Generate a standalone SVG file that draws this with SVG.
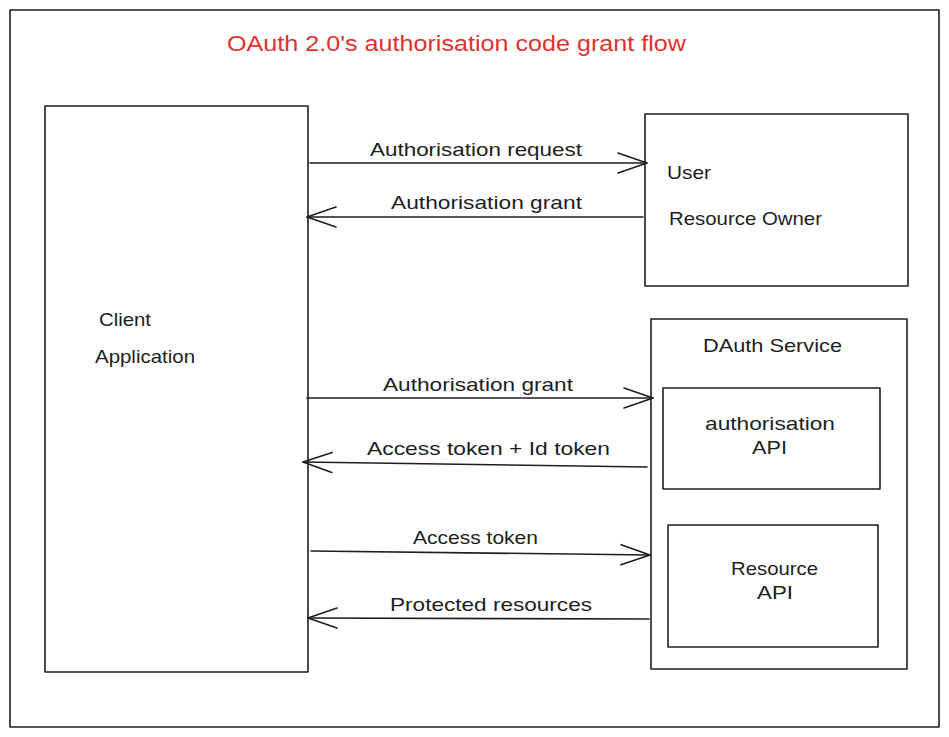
<svg xmlns="http://www.w3.org/2000/svg" width="949" height="737" viewBox="0 0 949 737">
<defs>
<style>
.box{fill:none;stroke:#1e1e1e;stroke-width:1.6;stroke-linejoin:round}
.conn{fill:none;stroke:#1e1e1e;stroke-width:1.6;stroke-linecap:round}
.t{font-family:"Liberation Sans",Arial,sans-serif;font-size:19px;fill:#1e1e1e}
.title{font-family:"Liberation Sans",Arial,sans-serif;font-size:22px;fill:#e03131}
</style>
<marker id="ah" markerUnits="userSpaceOnUse" markerWidth="40" markerHeight="30" viewBox="-32 -15 40 30" refX="0" refY="0" orient="auto" overflow="visible">
<path d="M-29,-10 L0,0 L-29,10" fill="none" stroke="#1e1e1e" stroke-width="1.6" stroke-linecap="round" stroke-linejoin="round"/>
</marker>
</defs>
<rect width="949" height="737" fill="#ffffff"/>
<g id="frame">
<rect class="box" x="10" y="10" width="929" height="717"/>
</g>
<g id="title">
<text class="title" x="227" y="51" textLength="459" lengthAdjust="spacingAndGlyphs">OAuth 2.0's authorisation code grant flow</text>
</g>
<g id="client">
<rect class="box" x="45" y="106" width="263" height="566"/>
<text class="t" x="99" y="326" textLength="52" lengthAdjust="spacingAndGlyphs">Client</text>
<text class="t" x="95" y="363" textLength="100" lengthAdjust="spacingAndGlyphs">Application</text>
</g>
<g id="user">
<rect class="box" x="645" y="114" width="263" height="172"/>
<text class="t" x="667" y="179" textLength="44" lengthAdjust="spacingAndGlyphs">User</text>
<text class="t" x="669" y="225" textLength="153" lengthAdjust="spacingAndGlyphs">Resource Owner</text>
</g>
<g id="oauth-service">
<rect class="box" x="651" y="319" width="256" height="350"/>
<text class="t" x="703" y="352" textLength="139" lengthAdjust="spacingAndGlyphs">DAuth Service</text>
</g>
<g id="authorisation-api">
<rect class="box" x="663" y="388" width="217" height="101"/>
<text class="t" x="705" y="430" textLength="130" lengthAdjust="spacingAndGlyphs">authorisation</text>
<text class="t" x="752" y="454" textLength="35" lengthAdjust="spacingAndGlyphs">API</text>
</g>
<g id="resource-api">
<rect class="box" x="668" y="525" width="210" height="122"/>
<text class="t" x="731" y="575" textLength="87" lengthAdjust="spacingAndGlyphs">Resource</text>
<text class="t" x="757" y="599" textLength="36" lengthAdjust="spacingAndGlyphs">API</text>
</g>
<g id="connectors">
<line class="conn" x1="310" y1="163" x2="647" y2="163" marker-end="url(#ah)"/>
<text class="t" x="370" y="156" textLength="212" lengthAdjust="spacingAndGlyphs">Authorisation request</text>
<line class="conn" x1="643" y1="217" x2="307" y2="217" marker-end="url(#ah)"/>
<text class="t" x="391" y="209" textLength="191" lengthAdjust="spacingAndGlyphs">Authorisation grant</text>
<line class="conn" x1="307" y1="398" x2="653" y2="398" marker-end="url(#ah)"/>
<text class="t" x="383" y="391" textLength="190" lengthAdjust="spacingAndGlyphs">Authorisation grant</text>
<line class="conn" x1="647" y1="467" x2="303" y2="462" marker-end="url(#ah)"/>
<text class="t" x="367" y="455" textLength="243" lengthAdjust="spacingAndGlyphs">Access token + Id token</text>
<line class="conn" x1="311" y1="551" x2="650" y2="555" marker-end="url(#ah)"/>
<text class="t" x="413" y="544" textLength="125" lengthAdjust="spacingAndGlyphs">Access token</text>
<line class="conn" x1="649" y1="619" x2="308" y2="618" marker-end="url(#ah)"/>
<text class="t" x="390" y="611" textLength="202" lengthAdjust="spacingAndGlyphs">Protected resources</text>
</g>
</svg>
